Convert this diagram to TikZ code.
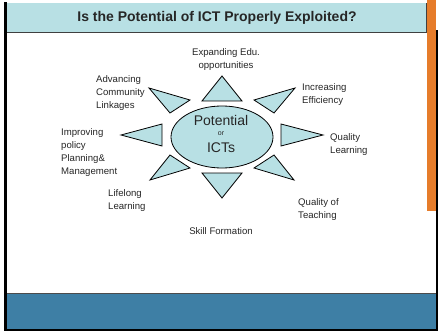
\documentclass[tikz,border=0pt]{standalone}
\usepackage{fontspec}
\setmainfont{Liberation Sans}
\definecolor{hdr}{HTML}{B8E0E4}
\definecolor{band}{HTML}{3E7FA5}
\definecolor{orng}{HTML}{E67C2A}
\definecolor{txt}{HTML}{262626}
\begin{document}
\begin{tikzpicture}[x=1pt,y=-1pt,
  tri/.style={draw=black,fill=hdr,line width=0.8pt,line join=miter},
  lbl/.style={inner sep=0pt,align=left,anchor=west,text=txt,font=\fontsize{9.6}{13}\selectfont},
  clbl/.style={inner sep=0pt,align=center,text=txt,font=\fontsize{9.6}{13}\selectfont}]
\useasboundingbox (0,0) rectangle (438,331);
\fill[white] (0,0) rectangle (438,331);
% header
\fill[hdr] (6,3) rectangle (426,32);
\draw[black!75,line width=1pt] (6,32.5) -- (426,32.5) -- (426,3);
\node[inner sep=0pt,font=\bfseries\fontsize{14}{16}\selectfont,text=black!85] (title) at (217,18) {Is the Potential of ICT Properly Exploited?};
% frame
\fill[black] (4,2) rectangle (6.5,331);
\fill[black] (436,30) rectangle (438,331);
\fill[black] (4,329) rectangle (438,331);
\fill[orng] (427,0) rectangle (436,211);
% bottom band
\fill[band] (7,293) rectangle (436,329);
\draw[black!70,line width=1pt] (7,293) -- (436,293);
% triangles
\draw[tri] (222,76) -- (202,101) -- (242,101) -- cycle;
\draw[tri] (222,198) -- (202,173) -- (242,173) -- cycle;
\draw[tri] (121,135) -- (162,124) -- (162,146) -- cycle;
\draw[tri] (323,135) -- (281,124) -- (281,146) -- cycle;
\draw[tri] (149,88) -- (170,113) -- (190,100) -- cycle;
\draw[tri] (295,88) -- (274,113) -- (254,100) -- cycle;
\draw[tri] (150,180) -- (170,155) -- (190,168) -- cycle;
\draw[tri] (294,180) -- (274,155) -- (254,168) -- cycle;
% ellipse
\draw[tri] (222,137) ellipse [x radius=51, y radius=31];
\node[inner sep=0pt,text=txt,font=\fontsize{14}{16}\selectfont] (pot) at (221,120) {Potential};
\node[inner sep=0pt,text=txt,font=\fontsize{7}{8}\selectfont] (or) at (221,133.5) {or};
\node[inner sep=0pt,text=txt,font=\fontsize{14}{16}\selectfont] (icts) at (221,148) {ICTs};
% labels
\node[clbl] (exp) at (226,59.5) {Expanding Edu.\\opportunities};
\node[lbl] (adv) at (96,93) {Advancing\\Community\\Linkages};
\node[lbl] (imp) at (61,153) {Improving\\policy\\Planning\&\\Management};
\node[lbl] (life) at (108,201) {Lifelong\\Learning};
\node[clbl] (skill) at (221,231) {Skill Formation};
\node[lbl] (inc) at (302,94.5) {Increasing\\Efficiency};
\node[lbl] (ql) at (330,144.5) {Quality\\Learning};
\node[lbl] (qt) at (298,209.5) {Quality of\\Teaching};
\end{tikzpicture}
\end{document}
